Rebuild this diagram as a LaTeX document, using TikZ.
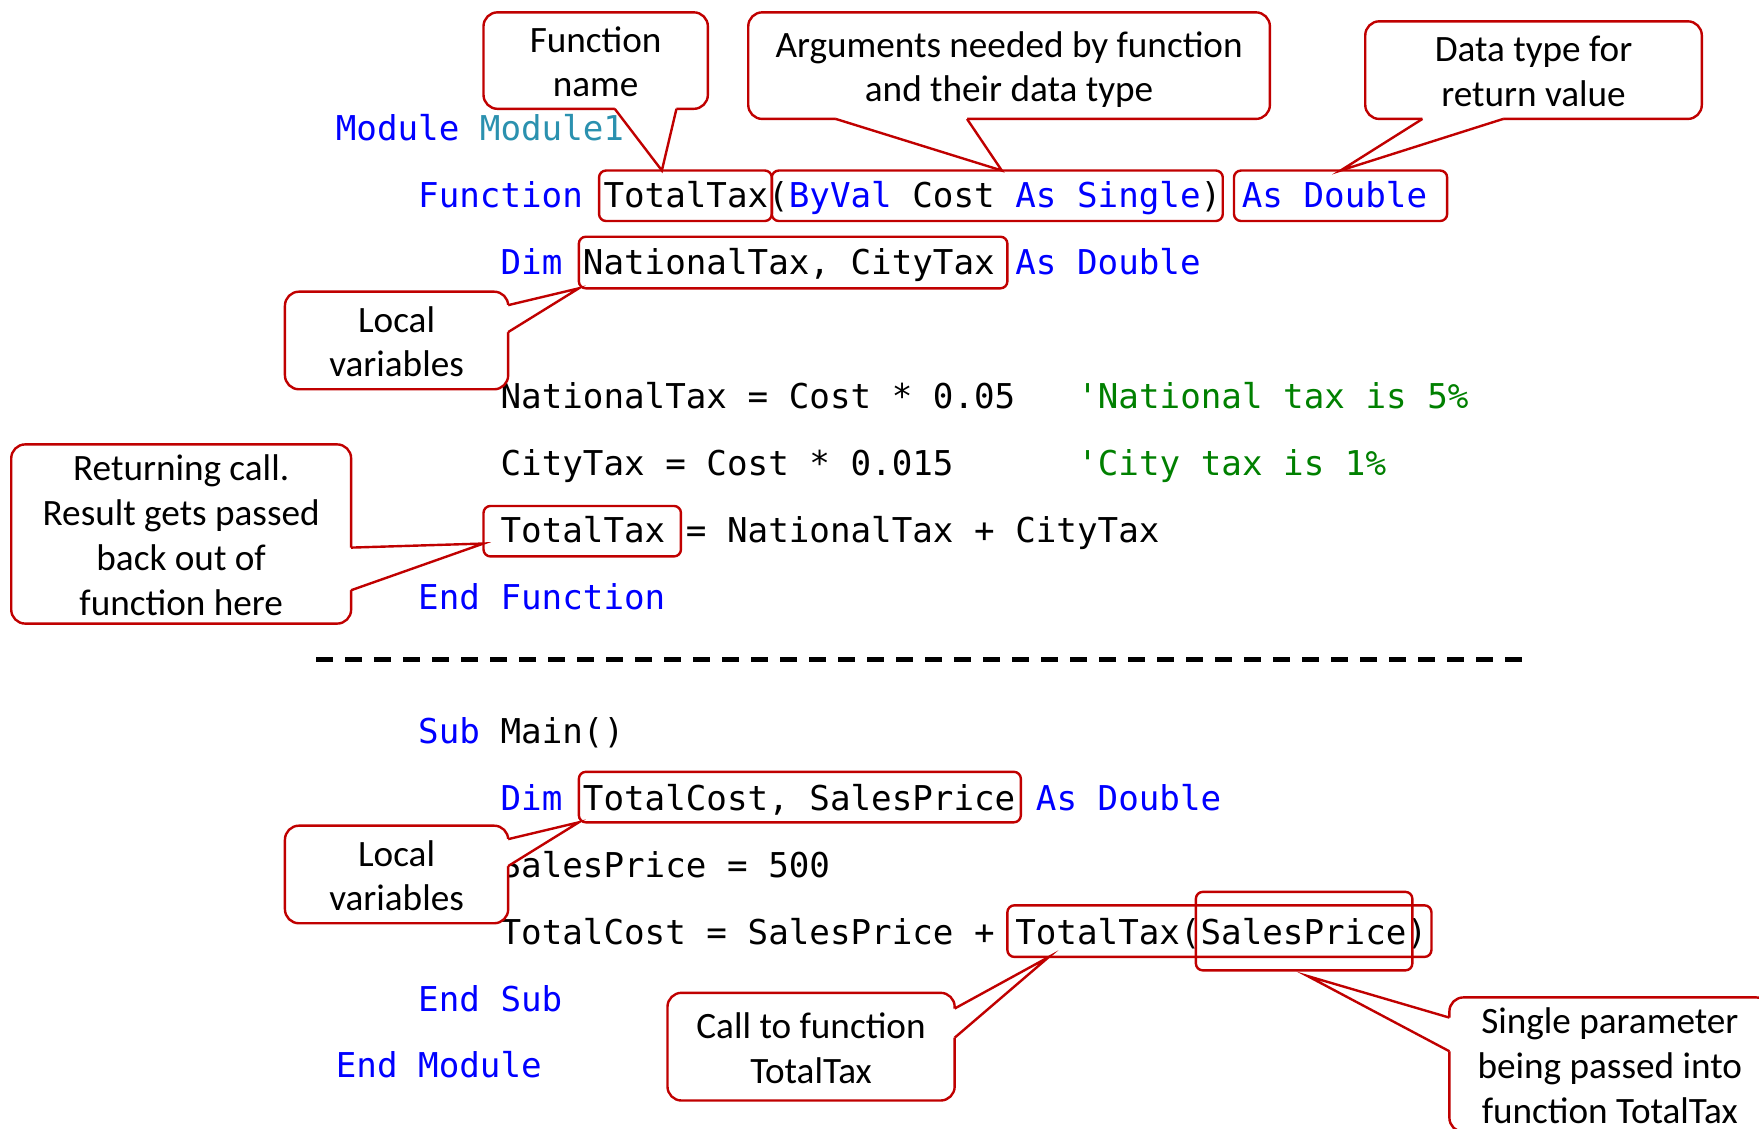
\documentclass[tikz,border=0pt]{standalone}
\usepackage{fontspec}
\setmainfont{Carlito}
\setmonofont{DejaVu Sans Mono}
\usetikzlibrary{calc, fit}

\definecolor{callred}{HTML}{C00000}
\definecolor{vbblue}{HTML}{0000FF}
\definecolor{vbteal}{HTML}{2B91AF}
\definecolor{vbgreen}{HTML}{008000}

\newcommand{\vbkw}[1]{\textcolor{vbblue}{#1}}
\newcommand{\vbtype}[1]{\textcolor{vbteal}{#1}}
\newcommand{\vbcmt}[1]{\textcolor{vbgreen}{#1}}
\newcommand{\cx}[1]{299+18.36*#1}
\newcommand{\px}[1]{#1*0.5609pt}
\newcommand{\btxt}[1]{\raisebox{-2.5pt}[\height][\depth]{\begin{tabular}{@{}c@{}}#1\end{tabular}}}
% pointer of a callout: base point, tip, base point, offset into the bubble
\newcommand{\callptr}[4]{%
	\fill[white] ($(#1)+(#4)$) -- (#1) -- (#2) -- (#3) -- ($(#3)+(#4)$) -- cycle;
	\draw[callline] (#1) -- (#2) -- (#3);}

\begin{document}
\begin{tikzpicture}[
		x=0.5609pt, y=-0.5609pt,
		code/.style={anchor=base west, inner sep=0pt, font=\ttfamily\fontsize{17.1}{20}\selectfont},
		codebox/.style={draw=callred, line width=1.2pt, rounded corners=3.5pt, inner sep=0pt, outer sep=0pt},
		bubble/.style={draw=callred, fill=white, line width=1.2pt, rounded corners=7pt, inner sep=0pt, outer sep=0pt, font=\fontsize{18.6}{22.4}\selectfont},
		callline/.style={draw=callred, line width=1.2pt},
		sepline/.style={line width=2.25pt, dash pattern=on 8.2pt off 6.3pt}
	]
	\useasboundingbox (0,0) rectangle (1568,1006);
	\clip (0,0) rectangle (1568,1006);

		% Code
		\node[code] (mod) at ({\cx{0}},125) {\vbkw{Module} \vbtype{Module1}};
		\node[code] (fun) at ({\cx{4}},184.7) {\vbkw{Function} TotalTax(\vbkw{ByVal} Cost \vbkw{As Single}) \vbkw{As Double}};
		\node[code] (dimA) at ({\cx{8}},244.4) {\vbkw{Dim} NationalTax, CityTax \vbkw{As Double}};
		\node[code] (ntax) at ({\cx{8}},363.8) {NationalTax = Cost * 0.05};
		\node[code] (ntaxc) at ({\cx{36}},363.8) {\vbcmt{'National tax is 5\%}};
		\node[code] (ctax) at ({\cx{8}},423.6) {CityTax = Cost * 0.015};
		\node[code] (ctaxc) at ({\cx{36}},423.6) {\vbcmt{'City tax is 1\%}};
		\node[code] (ret) at ({\cx{8}},483.3) {TotalTax = NationalTax + CityTax};
		\node[code] (endf) at ({\cx{4}},543) {\vbkw{End Function}};
		\node[code] (sub) at ({\cx{4}},662.4) {\vbkw{Sub} Main()};
		\node[code] (dimB) at ({\cx{8}},722.1) {\vbkw{Dim} TotalCost, SalesPrice \vbkw{As Double}};
		\node[code] (sp) at ({\cx{8}},781.8) {SalesPrice = 500};
		\node[code] (tc) at ({\cx{8}},841.5) {TotalCost = SalesPrice + TotalTax(SalesPrice)};
		\node[code] (ends) at ({\cx{4}},901.2) {\vbkw{End Sub}};
		\node[code] (endm) at ({\cx{0}},960.9) {\vbkw{End Module}};

		% Boxes round the code
		\node[codebox, fit={(534,152) (688,197)}] (bxFname) {};
		\node[codebox, fit={(688,152) (1090,197)}] (bxArgs) {};
		\node[codebox, fit={(1100,152) (1290,197)}] (bxRet) {};
		\node[codebox, fit={(516,211) (898,257)}] (bxLocalA) {};
		\node[codebox, fit={(431,451) (607,496)}] (bxReturn) {};
		\node[codebox, fit={(516,688) (910,733)}] (bxLocalB) {};
		\node[codebox, fit={(898,807) (1276,853)}] (bxCall) {};
		\node[codebox, fit={(1066,795) (1259,865)}] (bxParam) {};

		% Separator
		\draw[sepline] (282,588) -- (1362,588);

		% Callouts
		\node[bubble, minimum width=\px{200}, minimum height=\px{86}] (fname) at (531,54) {\btxt{Function\\name}};
		\node[bubble, minimum width=\px{465}, minimum height=\px{95}] (args) at (899.5,58.5) {\btxt{Arguments needed by function\\and their data type}};
		\node[bubble, minimum width=\px{300}, minimum height=\px{87}] (rettype) at (1367,62.5) {\btxt{Data type for\\return value}};
		\node[bubble, minimum width=\px{199}, minimum height=\px{87}] (localA) at (353.5,303.5) {\btxt{Local\\variables}};
		\node[bubble, minimum width=\px{303}, minimum height=\px{158}] (retcall) at (161.5,476) {\btxt{Returning call.\\Result gets passed\\back out of\\function here}};
		\node[bubble, minimum width=\px{199}, minimum height=\px{87}] (localB) at (353.5,779.5) {\btxt{Local\\variables}};
		\node[bubble, minimum width=\px{256}, minimum height=\px{96}] (callfn) at (723,933) {\btxt{Call to function\\TotalTax}};
		\node[bubble, minimum width=\px{286}, minimum height=\px{118}] (param) at (1435,949) {\btxt{Single parameter\\being passed into\\function TotalTax}};

		% Pointers
		\coordinate (fnA) at ($(fname.south west)+(117,0)$);
		\coordinate (fnB) at ($(fname.south west)+(172,0)$);
		\coordinate (fnT) at ($(bxFname.north west)+(56,0)$);
		\callptr{fnA}{fnT}{fnB}{0,-2.5}
		\coordinate (agA) at ($(args.south west)+(78,0)$);
		\coordinate (agB) at ($(args.south west)+(195,0)$);
		\coordinate (agT) at ($(bxArgs.north west)+(205,0)$);
		\callptr{agA}{agT}{agB}{0,-2.5}
		\coordinate (rtA) at ($(rettype.south west)+(51,0)$);
		\coordinate (rtB) at ($(rettype.south west)+(123,0)$);
		\coordinate (rtT) at ($(bxRet.north west)+(95,0)$);
		\callptr{rtA}{rtT}{rtB}{0,-2.5}
		\coordinate (laA) at ($(localA.north east)+(0,12)$);
		\coordinate (laB) at ($(localA.north east)+(0,36)$);
		\callptr{laA}{bxLocalA.south west}{laB}{-2.5,0}
		\coordinate (rcA) at ($(retcall.north east)+(0,92)$);
		\coordinate (rcB) at ($(retcall.north east)+(0,130)$);
		\coordinate (rcT) at ($(bxReturn.west)+(0,11)$);
		\callptr{rcA}{rcT}{rcB}{-2.5,0}
		\coordinate (lbA) at ($(localB.north east)+(0,12)$);
		\coordinate (lbB) at ($(localB.north east)+(0,36)$);
		\callptr{lbA}{bxLocalB.south west}{lbB}{-2.5,0}
		\coordinate (cfA) at ($(callfn.north east)+(0,14)$);
		\coordinate (cfB) at ($(callfn.north east)+(0,40)$);
		\coordinate (cfT) at ($(bxCall.south west)+(37,0)$);
		\callptr{cfA}{cfT}{cfB}{-2.5,0}
		\coordinate (pmA) at ($(param.north west)+(0,18)$);
		\coordinate (pmB) at ($(param.north west)+(0,48)$);
		\coordinate (pmT) at ($(bxParam.south)+(3,5)$);
		\callptr{pmA}{pmT}{pmB}{2.5,0}

	\end{tikzpicture}
\end{document}
